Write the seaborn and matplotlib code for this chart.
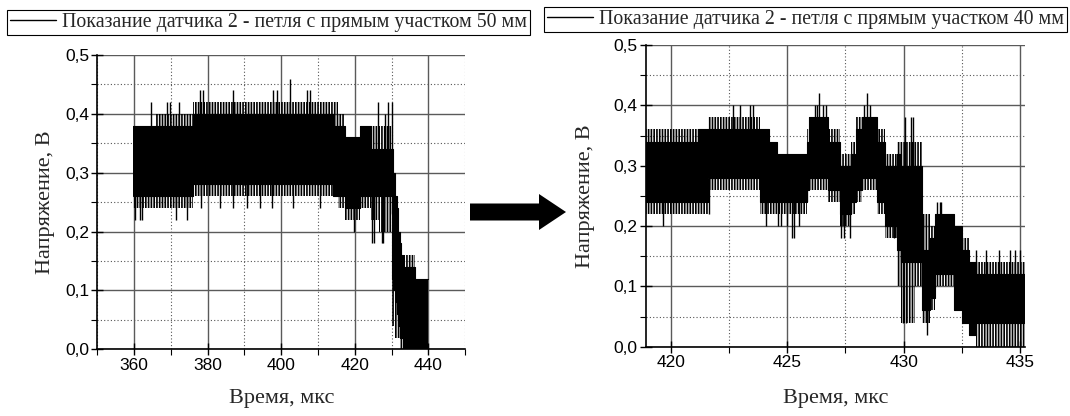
import matplotlib
matplotlib.use('Agg')
import matplotlib.pyplot as plt
from matplotlib.patches import FancyArrow
from matplotlib.lines import Line2D
from matplotlib.ticker import MultipleLocator, FuncFormatter
import seaborn as sns
import numpy as np

# --- sensor 2, loop with 50 mm straight part (time in us, voltage in V) ---
# signal is drawn as a peak-detect envelope: solid core, hatched fringe, single spikes
edges50 = [359.8, 366.0, 376.0, 414.0, 415.5, 417.3, 421.4, 424.5, 426.5, 430.0,
           430.5, 431.0, 431.4, 431.9, 432.3, 432.6, 433.2, 436.4, 440.0]
core_lo50 = [0.26, 0.26, 0.28, 0.26, 0.26, 0.24, 0.26, 0.26, 0.26, 0.12,
             0.10, 0.08, 0.06, 0.04, 0.02, 0.02, 0.00, 0.00]
core_hi50 = [0.38, 0.38, 0.40, 0.38, 0.38, 0.36, 0.38, 0.34, 0.34, 0.34,
             0.30, 0.26, 0.24, 0.20, 0.18, 0.16, 0.14, 0.12]
fringe_lo50 = [0.24, 0.24, 0.26, 0.26, 0.24, 0.22, 0.24, 0.22, 0.20, 0.04,
               0.04, 0.02, 0.02, 0.02, 0.00, 0.00, 0.00, 0.00]
fringe_hi50 = [0.38, 0.40, 0.42, 0.42, 0.40, 0.36, 0.38, 0.38, 0.38, 0.38,
               0.30, 0.26, 0.24, 0.20, 0.18, 0.16, 0.16, 0.12]
up50_t = [364.6, 369.0, 369.7, 372.3, 377.9, 378.7, 387.0, 397.8, 398.9, 402.4,
          406.9, 407.8, 426.4, 428.2, 429.1, 430.0]
up50_v = [0.42, 0.42, 0.42, 0.42, 0.44, 0.44, 0.44, 0.44, 0.44, 0.46,
          0.44, 0.44, 0.42, 0.40, 0.42, 0.42]
dn50_t = [360.2, 361.6, 362.0, 371.4, 374.3, 378.3, 383.3, 387.0, 390.6, 394.2,
          397.4, 403.3, 410.5, 419.9, 424.8, 425.3, 427.3, 427.8]
dn50_v = [0.22, 0.22, 0.22, 0.22, 0.22, 0.24, 0.24, 0.24, 0.24, 0.24,
          0.24, 0.24, 0.24, 0.20, 0.18, 0.18, 0.18, 0.18]

# --- sensor 2, loop with 40 mm straight part ---
edges40 = [418.93, 421.18, 421.6, 423.85, 424.2, 424.55, 425.85, 425.95, 426.75, 427.27,
           427.75, 427.95, 428.2, 428.85, 429.2, 429.7, 429.9, 430.5, 430.8, 431.15,
           431.35, 432.15, 432.5, 432.8, 433.1, 435.21]
core_lo40 = [0.24, 0.24, 0.28, 0.24, 0.24, 0.24, 0.26, 0.28, 0.26, 0.22,
             0.24, 0.26, 0.28, 0.24, 0.20, 0.16, 0.14, 0.14, 0.06, 0.08,
             0.12, 0.06, 0.04, 0.02, 0.04]
core_hi40 = [0.34, 0.36, 0.36, 0.36, 0.34, 0.32, 0.34, 0.38, 0.34, 0.30,
             0.32, 0.36, 0.38, 0.34, 0.30, 0.32, 0.30, 0.30, 0.16, 0.18,
             0.22, 0.20, 0.16, 0.14, 0.12]
fringe_lo40 = [0.22, 0.22, 0.26, 0.22, 0.22, 0.22, 0.24, 0.26, 0.24, 0.20,
               0.22, 0.24, 0.26, 0.22, 0.18, 0.10, 0.04, 0.10, 0.04, 0.06,
               0.10, 0.06, 0.04, 0.02, 0.00]
fringe_hi40 = [0.36, 0.36, 0.38, 0.36, 0.34, 0.32, 0.36, 0.38, 0.36, 0.32,
               0.34, 0.38, 0.38, 0.36, 0.32, 0.34, 0.34, 0.34, 0.22, 0.20,
               0.22, 0.20, 0.18, 0.14, 0.14]
up40_t = [422.68, 422.97, 423.4, 423.54, 426.17, 426.27, 426.38, 426.55, 426.67, 428.3,
          428.41, 428.55, 430.06, 430.3, 430.4, 431.45, 431.55, 431.62, 433.1, 433.55,
          434.1, 434.55, 434.8, 435.0]
up40_v = [0.40, 0.40, 0.40, 0.40, 0.40, 0.40, 0.42, 0.40, 0.40, 0.40,
          0.42, 0.40, 0.38, 0.38, 0.38, 0.24, 0.24, 0.24, 0.16, 0.16,
          0.16, 0.16, 0.16, 0.16]
dn40_t = [419.65, 421.62, 424.1, 424.6, 424.75, 425.0, 425.2, 425.28, 425.5, 427.31,
          427.45, 427.7, 429.6, 429.95, 430.1, 431.0]
dn40_v = [0.20, 0.22, 0.20, 0.20, 0.20, 0.20, 0.18, 0.18, 0.20, 0.18,
          0.18, 0.18, 0.18, 0.04, 0.04, 0.02]

label50 = 'Показание датчика 2 - петля с прямым участком 50 мм'
label40 = 'Показание датчика 2 - петля с прямым участком 40 мм'
xlabel = 'Время, мкс'
ylabel = 'Напряжение, В'

sns.set_style('white')
plt.rcParams['font.family'] = ['Liberation Sans', 'DejaVu Sans']
plt.rcParams['hatch.linewidth'] = 1.2
plt.rcParams['hatch.color'] = 'black'
SERIF = ['Liberation Serif', 'DejaVu Serif']


def ext(a):
    return np.append(a, a[-1])


def draw_signal(ax, edges, c_lo, c_hi, f_lo, f_hi, up_t, up_v, dn_t, dn_v):
    x = np.array(edges)
    c_lo, c_hi = np.array(c_lo), np.array(c_hi)
    ax.fill_between(x, ext(c_lo), ext(c_hi), step='post', color='black', lw=0, zorder=3)
    ax.fill_between(x, ext(c_hi), ext(f_hi), step='post', facecolor='none',
                    edgecolor='black', hatch='||||||', lw=0, zorder=3)
    ax.fill_between(x, ext(f_lo), ext(c_lo), step='post', facecolor='none',
                    edgecolor='black', hatch='||||||', lw=0, zorder=3)
    sns.lineplot(x=x, y=ext(c_hi), drawstyle='steps-post', estimator=None,
                 color='black', lw=0.8, ax=ax, zorder=3)
    sns.lineplot(x=x, y=ext(c_lo), drawstyle='steps-post', estimator=None,
                 color='black', lw=0.8, ax=ax, zorder=3)
    mid = (c_lo + c_hi) / 2
    for ts, vs in ((up_t, up_v), (dn_t, dn_v)):
        idx = np.searchsorted(x, ts, side='right') - 1
        ax.vlines(ts, mid[idx], vs, color='black', lw=1.0, zorder=3)


def style_axes(ax, xmaj, xmin):
    ax.xaxis.set_major_locator(MultipleLocator(xmaj))
    ax.xaxis.set_minor_locator(MultipleLocator(xmin))
    ax.yaxis.set_major_locator(MultipleLocator(0.1))
    ax.yaxis.set_minor_locator(MultipleLocator(0.05))
    ax.yaxis.set_major_formatter(FuncFormatter(lambda v, p: f'{v:.1f}'.replace('.', ',')))
    ax.set_ylim(0, 0.5)
    ax.set_axisbelow(True)
    ax.grid(which='major', color='#5a5a5a', lw=1.0, ls='-')
    ax.grid(which='minor', color='#555555', lw=0.8, ls=(0, (1, 2)))
    for s in ('top', 'right'):
        ax.spines[s].set_visible(False)
    for s in ('left', 'bottom'):
        ax.spines[s].set_color('black')
        ax.spines[s].set_linewidth(1.2)
    ax.tick_params(which='major', direction='inout', length=8, width=1.0,
                   color='black', labelsize=12.5, labelcolor='black', pad=2,
                   left=True, bottom=True)
    ax.tick_params(which='minor', direction='out', length=4, width=0.8,
                   color='black', left=True, bottom=True)
    ax.set_xlabel(xlabel, family=SERIF, fontsize=16)
    ax.set_ylabel(ylabel, family=SERIF, fontsize=16)


fig = plt.figure(figsize=(10.7, 4.16), dpi=100)
ax1 = fig.add_axes([0.0911, 0.1603, 0.3435, 0.7075])
ax2 = fig.add_axes([0.6037, 0.1666, 0.3542, 0.7252])

draw_signal(ax1, edges50, core_lo50, core_hi50, fringe_lo50, fringe_hi50,
            up50_t, up50_v, dn50_t, dn50_v)
draw_signal(ax2, edges40, core_lo40, core_hi40, fringe_lo40, fringe_hi40,
            up40_t, up40_v, dn40_t, dn40_v)

style_axes(ax1, 20, 10)
ax1.set_xlim(350, 450)
style_axes(ax2, 5, 2.5)
ax2.set_xlim(418.93, 435.21)

ax1.xaxis.set_label_coords(0.5, -0.135)
ax1.yaxis.set_label_coords(-0.116, 0.5)
ax2.xaxis.set_label_coords(0.5, -0.141)
ax2.yaxis.set_label_coords(-0.135, 0.5)

for ax, lab, pos in ((ax1, label50, (0.251, 0.947)), (ax2, label40, (0.753, 0.954))):
    leg = ax.legend(handles=[Line2D([], [], color='black', lw=1.0)], labels=[lab],
                    loc='center', bbox_to_anchor=pos, bbox_transform=fig.transFigure,
                    frameon=True, fancybox=False, framealpha=1, edgecolor='black',
                    borderpad=0.15, handlelength=2.3, handletextpad=0.3,
                    borderaxespad=0, prop={'family': SERIF, 'size': 14.3})
    leg.get_frame().set_linewidth(0.8)

# arrow between the panels (pixel coordinates of the figure)
over = fig.add_axes([0, 0, 1, 1], zorder=-1)
over.set_xlim(0, 1070)
over.set_ylim(416, 0)
over.axis('off')
over.add_patch(FancyArrow(470, 212, 96, 0, width=17, head_width=36, head_length=27,
                          length_includes_head=True, color='black', lw=0))

fig.savefig('out.png', dpi=100)
